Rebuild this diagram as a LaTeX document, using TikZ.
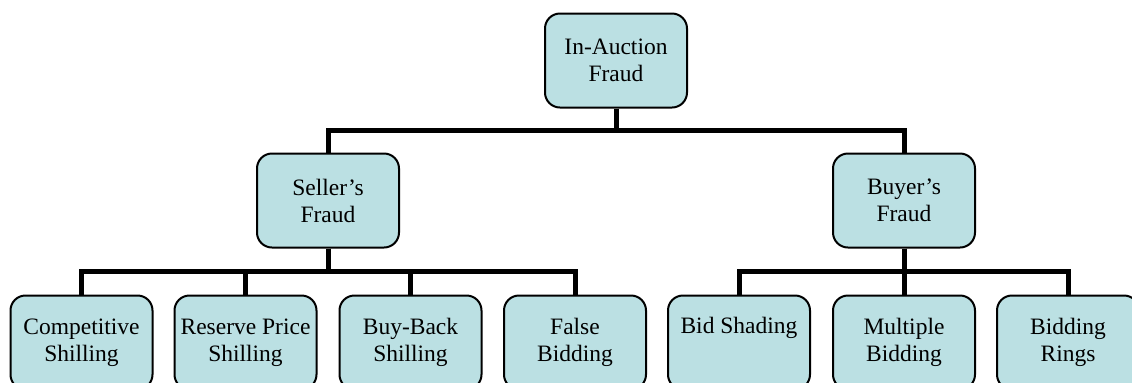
\documentclass[tikz,border=0pt]{standalone}
\usepackage{fontspec}
\setmainfont{Liberation Serif}
\usepackage{tikz}
\usetikzlibrary{calc}
\definecolor{boxfill}{HTML}{BBE0E3}
\tikzset{x=0.5pt, y=-0.5pt,
    fraud box/.style={draw=black, line width=1pt, fill=boxfill,
           rounded corners=7.5pt, minimum width=71pt, minimum height=47pt,
           inner sep=0pt, align=center,
           font=\fontsize{11.75}{13.5}\selectfont},
    branch line/.style={draw=black, line width=2.5pt, line join=miter}
    }
\def\FraudNode#1#2#3#4{%
 \node[fraud box] (#1) at (#2,#3) {#4};
}
\def\Branch#1#2{%
 \draw[branch line] (#1.south) |- ($(#1.south)!.5!(#2.north)$) -| (#2.north);
}
\begin{document}
\begin{tikzpicture}
\useasboundingbox (0,0) rectangle (1132,382);
\clip (0,0) rectangle (1132,382);
\FraudNode{auction}{616}{60.5}{In-Auction\\Fraud}
\FraudNode{seller}{328}{200.5}{Seller's\\Fraud}
\FraudNode{buyer}{904}{200.5}{Buyer's\\Fraud}
\FraudNode{competitive}{81.5}{342.5}{Competitive\\Shilling}
\FraudNode{reserve}{245.5}{342.5}{Reserve Price\\Shilling}
\FraudNode{buyback}{410.5}{342.5}{Buy-Back\\Shilling}
\FraudNode{falsebid}{575}{342.5}{False\\Bidding}
\FraudNode{shading}{739}{342.5}{Bid Shading\\\strut}
\FraudNode{multiple}{904}{342.5}{Multiple\\Bidding}
\FraudNode{rings}{1068}{342.5}{Bidding\\Rings}
%\Branch{auction}{seller}
\foreach \kid in {seller,buyer}
  {\Branch{auction}{\kid}}
\foreach \kid in {competitive,reserve,buyback,falsebid}
  {\Branch{seller}{\kid}}
\foreach \kid in {shading,multiple,rings}
  {\Branch{buyer}{\kid}}
\end{tikzpicture}
\end{document}
